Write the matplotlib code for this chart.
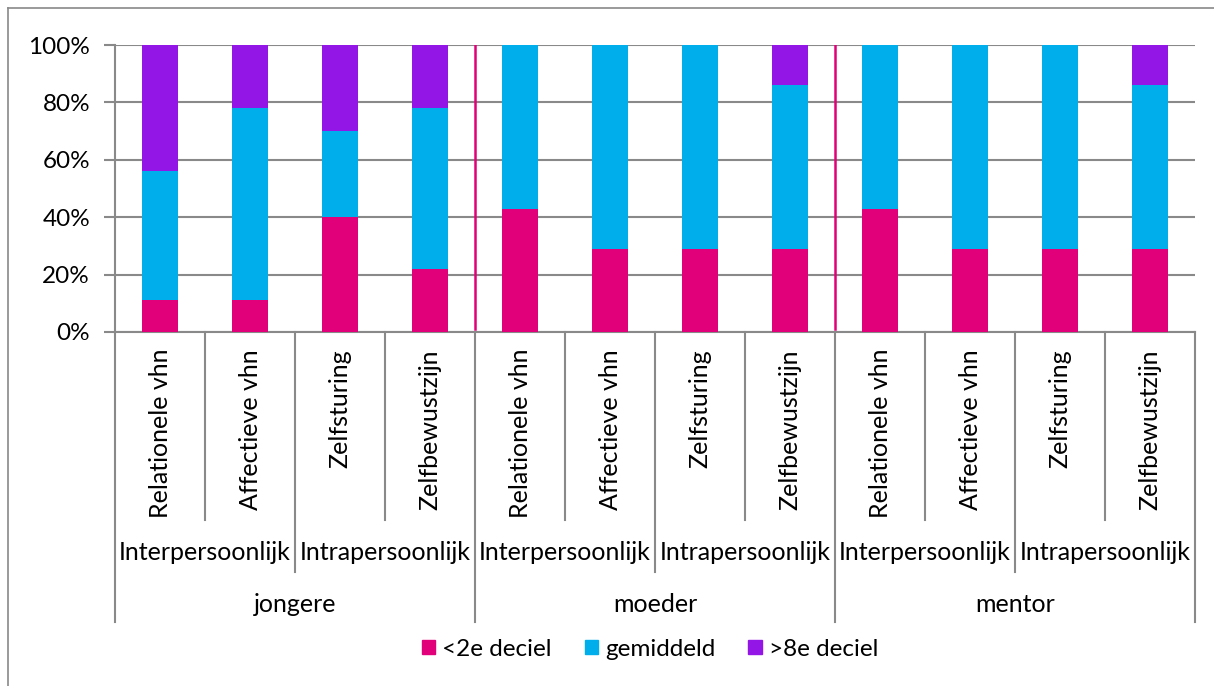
import matplotlib
matplotlib.use("Agg")
import matplotlib.pyplot as plt
from matplotlib.lines import Line2D
from matplotlib.patches import Patch

plt.rcParams['font.family'] = ['Lato', 'DejaVu Sans']

categories = ["Relationele vhn", "Affectieve vhn", "Zelfsturing", "Zelfbewustzijn"] * 3
subgroups = ["Interpersoonlijk", "Intrapersoonlijk"] * 3
groups = ["jongere", "moeder", "mentor"]
series_names = ["<2e deciel", "gemiddeld", ">8e deciel"]
low = [11, 11, 40, 22, 43, 29, 29, 29, 43, 29, 29, 29]
mid = [45, 67, 30, 56, 57, 71, 71, 57, 57, 71, 71, 57]
high = [44, 22, 30, 22, 0, 0, 0, 14, 0, 0, 0, 14]
yticks = [0, 20, 40, 60, 80, 100]
ytick_labels = ["0%", "20%", "40%", "60%", "80%", "100%"]

colors = ["#E2007A", "#00AEEB", "#9416E6"]
grid_c = "#898989"

W, H = 1214, 686
fig = plt.figure(figsize=(W / 100, H / 100), dpi=100)
L, R, T, B = 115, 1195, 45, 332
ax = fig.add_axes([L / W, 1 - B / H, (R - L) / W, (B - T) / H])

x = list(range(len(categories)))
bottom2 = [a + b for a, b in zip(low, mid)]
ax.bar(x, low, width=0.4, color=colors[0], zorder=3)
ax.bar(x, mid, width=0.4, bottom=low, color=colors[1], zorder=3)
ax.bar(x, high, width=0.4, bottom=bottom2, color=colors[2], zorder=3)

ax.set_xlim(-0.5, len(categories) - 0.5)
ax.set_ylim(0, 100)
ax.set_yticks(yticks)
ax.set_yticklabels(ytick_labels, fontsize=17.5)
ax.yaxis.grid(True, color=grid_c, linewidth=1.5, zorder=0)
ax.set_xticks([])
for s in ["top", "right"]:
    ax.spines[s].set_visible(False)
for s in ["left", "bottom"]:
    ax.spines[s].set_color(grid_c)
    ax.spines[s].set_linewidth(1.5)
ax.tick_params(axis='y', length=8, width=1.5, color=grid_c, pad=10)

# group divider lines (magenta) inside plot
for xd in [3.5, 7.5]:
    ax.plot([xd, xd], [1, 100], color=colors[0], linewidth=1.8, zorder=4)

def ay(px):
    return (B - px) / (B - T)

tr = ax.get_xaxis_transform()
# separators
for i in range(len(categories) + 1):
    xs = i - 0.5
    if i % 4 == 0:
        y_end = 622
    elif i % 2 == 0:
        y_end = 572
    else:
        y_end = 520
    ax.add_line(Line2D([xs, xs], [0, ay(y_end)], transform=tr, color=grid_c,
                       linewidth=1.5, clip_on=False))

for i, c in enumerate(categories):
    ax.text(i, ay(349), c, transform=tr, rotation=90, ha='center', va='top',
            fontsize=18, clip_on=False)
for j, s in enumerate(subgroups):
    ax.text(2 * j + 0.5, ay(552), s, transform=tr, ha='center', va='center',
            fontsize=18, clip_on=False)
for k, g in enumerate(groups):
    ax.text(4 * k + 1.5, ay(604), g, transform=tr, ha='center', va='center',
            fontsize=18, clip_on=False)

handles = [Patch(color=colors[i]) for i in range(3)]
fig.legend(handles, series_names, loc='center', bbox_to_anchor=(650 / W, 1 - 649 / H),
           ncol=3, frameon=False, fontsize=17.5, handlelength=0.55, handleheight=0.55,
           handletextpad=0.3, columnspacing=1.35)

# outer frame (top and left visible)
fig.add_artist(Line2D([8 / W, 1], [1 - 8 / H, 1 - 8 / H], transform=fig.transFigure,
                      color=grid_c, linewidth=1.2))
fig.add_artist(Line2D([8 / W, 8 / W], [0, 1 - 8 / H], transform=fig.transFigure,
                      color=grid_c, linewidth=1.2))

fig.savefig("out.png", dpi=100)
